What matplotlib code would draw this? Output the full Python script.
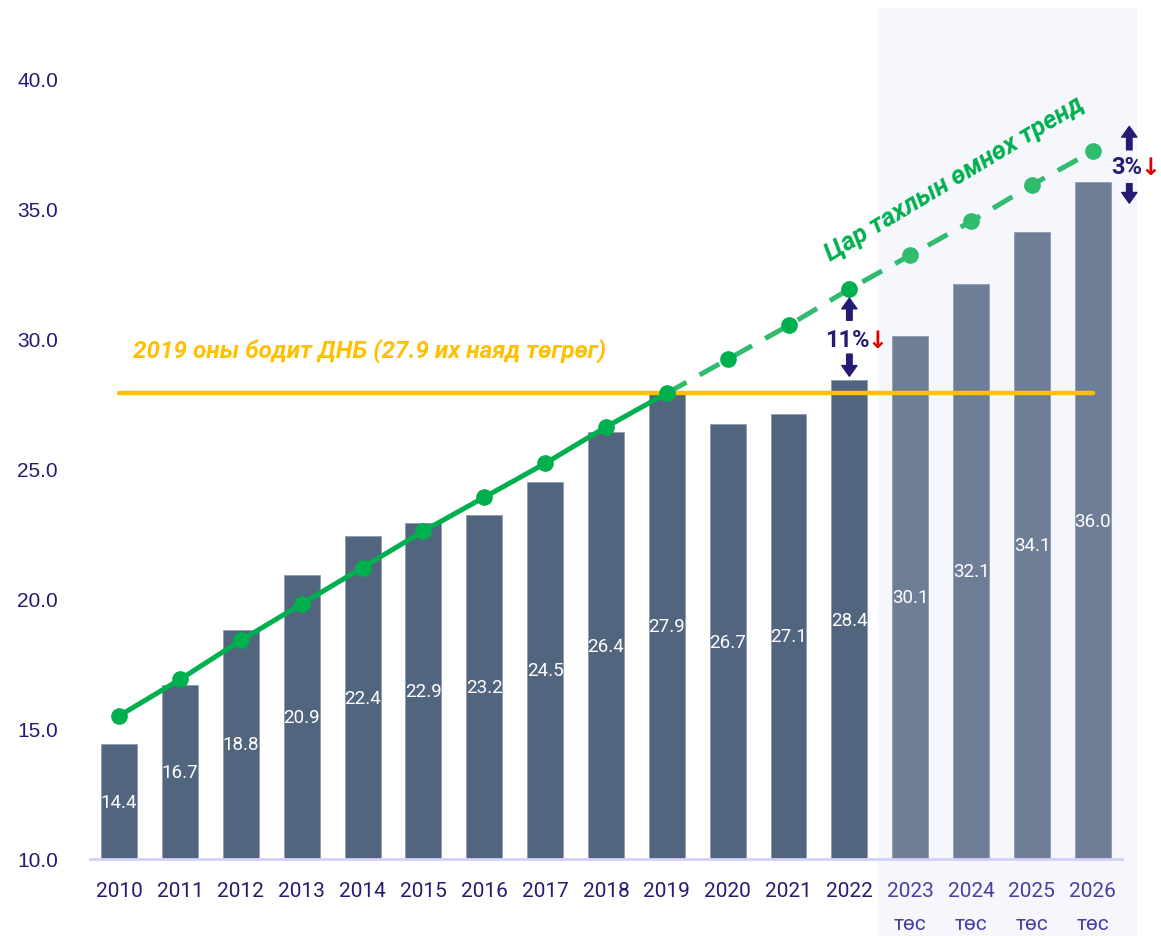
import matplotlib
matplotlib.use('Agg')
import matplotlib.pyplot as plt
from matplotlib.patches import Rectangle
import matplotlib.transforms as mtransforms

# ==== data ====
years = ['2010', '2011', '2012', '2013', '2014', '2015', '2016', '2017', '2018',
         '2019', '2020', '2021', '2022', '2023', '2024', '2025', '2026']
gdp = [14.4, 16.7, 18.8, 20.9, 22.4, 22.9, 23.2, 24.5, 26.4,
       27.9, 26.7, 27.1, 28.4, 30.1, 32.1, 34.1, 36.0]
trend = [15.5, 16.9, 18.4, 19.8, 21.2, 22.6, 23.9, 25.2, 26.6,
         27.9, 29.2, 30.5, 31.9, 33.2, 34.5, 35.9, 37.2]
forecast_from = 13          # 2023 onwards is a budget forecast
trend_break = 9             # pre-covid trend is projected after 2019
base_2019 = 27.9
gap_labels = {12: '11%', 16: '3%'}

NAVY = '#231c72'
NAVY_LIGHT = '#4a3f9e'
BAR_HIST = '#51657e'
BAR_FCST = '#6e7e96'
GREEN = '#00b04f'
GREEN_LIGHT = '#30bb6f'
YELLOW = '#ffc000'

plt.rcParams['font.family'] = ['Roboto', 'DejaVu Sans']

fig = plt.figure(figsize=(11.61, 9.37), dpi=100)
ax = fig.add_axes([0.0775, 0.0822, 0.8889, 0.9082])

x = list(range(len(years)))
ax.set_xlim(-0.48, 16.48)
ax.set_ylim(10, 42.7)

# shaded forecast zone, runs below the axis down to the bottom edge
trans = mtransforms.blended_transform_factory(ax.transData, ax.transAxes)
ax.add_patch(Rectangle((12.47, -0.0905), 4.25, 1.0905, transform=trans,
                       facecolor='#f6f7fc', edgecolor='none', clip_on=False, zorder=0))

colors = [BAR_HIST if i < forecast_from else BAR_FCST for i in x]
ax.bar(x, [v - 10 for v in gdp], bottom=10, width=0.59, color=colors,
       edgecolor='#8e9cb2', linewidth=0.6, zorder=2)

for i, v in zip(x, gdp):
    ax.text(i, 10 + (v - 10) / 2, f'{v:.1f}', ha='center', va='center',
            color='white', fontsize=13.5, zorder=3)

# 2019 real GDP level
ax.plot([x[0], x[-1]], [base_2019, base_2019], color=YELLOW, lw=3.2,
        solid_capstyle='round', zorder=4)
ax.text(0.23, 29.55, '2019 оны бодит ДНБ (27.9 их наяд төгрөг)', color=YELLOW,
        fontsize=17.5, fontweight='bold', fontstyle='italic', ha='left', va='center',
        zorder=5)

# pre-covid trend line
ax.plot(x[:trend_break + 1], trend[:trend_break + 1], color=GREEN, lw=3.6, zorder=5)
ax.plot(x[trend_break:], trend[trend_break:], color=GREEN_LIGHT, lw=3.6,
        dashes=(4.5, 3), zorder=5)
ax.plot(x[:forecast_from], trend[:forecast_from], 'o', color=GREEN, ms=11, zorder=6)
ax.plot(x[forecast_from:], trend[forecast_from:], 'o', color=GREEN_LIGHT, ms=11, zorder=6)
ax.text(13.73, 36.15, 'Цар тахлын өмнөх тренд', color=GREEN, fontsize=18.5,
        fontweight='bold', fontstyle='italic', rotation=31, ha='center', va='center',
        rotation_mode='anchor', zorder=6)

# gap markers between trend and actual/forecast
arrow = dict(arrowstyle='simple,head_width=1.0,head_length=0.7,tail_width=0.36',
             color=NAVY, mutation_scale=11, shrinkA=0, shrinkB=0)
for i, txt in gap_labels.items():
    if i == 12:
        ax_x, up, down, ty = i, (30.7, 31.55), (29.4, 28.55), 29.95
    else:
        ax_x, up, down, ty = 16.6, (37.25, 38.15), (35.95, 35.2), 36.6
    ax.annotate('', xy=(ax_x, up[1]), xytext=(ax_x, up[0]), arrowprops=arrow,
                annotation_clip=False, zorder=7)
    ax.annotate('', xy=(ax_x, down[1]), xytext=(ax_x, down[0]), arrowprops=arrow,
                annotation_clip=False, zorder=7)
    ax.text(ax_x - 0.04, ty, txt, color=NAVY, fontsize=17, fontweight='bold',
            ha='center', va='center', zorder=7, clip_on=False)
    off = 0.5 if len(txt) == 3 else 0.38
    ax.text(ax_x + off - 0.04, ty, '↓', color='#e00000', fontsize=17,
            fontweight='bold', family=['DejaVu Sans'], ha='center', va='center',
            zorder=7, clip_on=False)

# axes styling
ax.set_yticks([10, 15, 20, 25, 30, 35, 40])
ax.set_yticklabels([f'{t:.1f}' for t in [10, 15, 20, 25, 30, 35, 40]],
                   family=['Liberation Sans', 'DejaVu Sans'], fontsize=15, color=NAVY)
ax.tick_params(axis='y', length=0, pad=23)
ax.set_xticks(x)
ax.set_xticklabels([y if i < forecast_from else f'{y}\nтөс' for i, y in enumerate(years)],
                   fontsize=15, linespacing=1.9, va='top')
for i, lbl in enumerate(ax.get_xticklabels()):
    lbl.set_color(NAVY if i < forecast_from else NAVY_LIGHT)
ax.tick_params(axis='x', length=0, pad=16)

for side in ['top', 'right', 'left']:
    ax.spines[side].set_visible(False)
ax.spines['bottom'].set_color('#d3cff6')
ax.spines['bottom'].set_linewidth(2)
ax.spines['bottom'].set_zorder(3)
ax.set_facecolor('none')

plt.savefig('out.png', dpi=100)
